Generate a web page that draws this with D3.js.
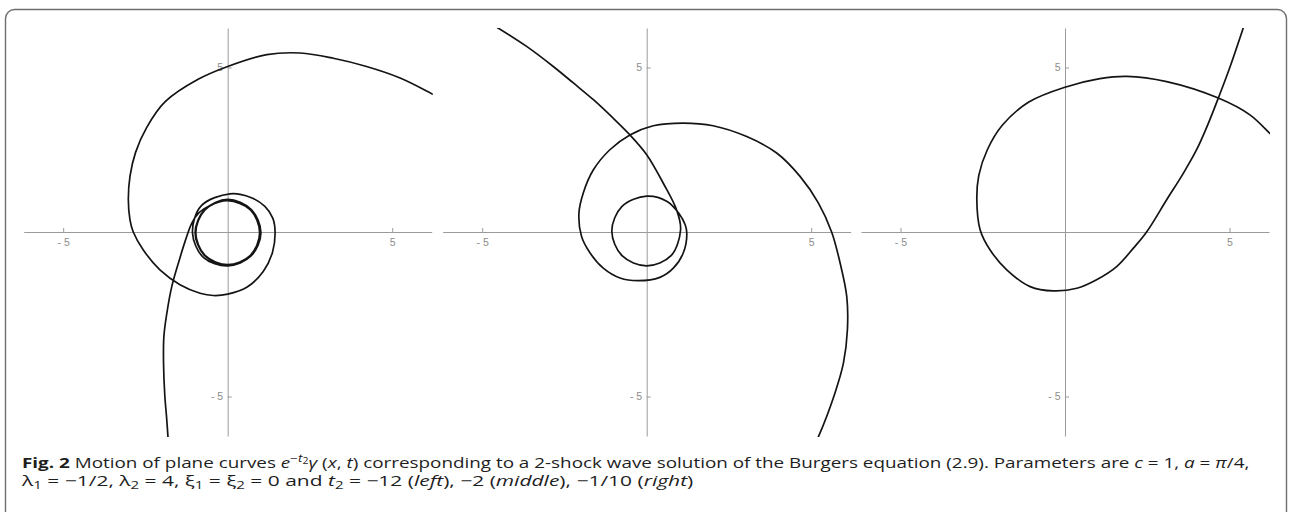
<!DOCTYPE html>
<html>
<head>
<meta charset="utf-8">
<script src="https://cdn.jsdelivr.net/npm/d3@7"></script>
<style>
  html, body { margin: 0; padding: 0; background: #ffffff; }
  svg { display: block; }
</style>
</head>
<body>
<svg id="fig" width="1291" height="512"></svg>
<script>
// ---- values -------------------------------------------------------------
// axis range and ticks shared by the three panels
const axisExtent = [-6.2, 6.2];
const tickValues = [-5, 5];
const tickLabels = ["- 5", "5"];
const panelNames = ["left", "middle", "right"];

// curve points (x, y) for t2 = -12
const leftCurve = [
  [-1.81, -6.30], [-1.86, -5.60], [-1.91, -5.00], [-1.95, -4.00], [-1.94, -3.18],
  [-1.85, -2.47], [-1.70, -1.66], [-1.47, -0.85], [-1.30, -0.30], [-1.09, 0.27],
  [-0.88, 0.58], [-0.55, 0.80], [0.00, 0.95],
  [0.69, 0.67], [0.97, -0.02], [0.69, -0.71], [0.00, -0.99], [-0.69, -0.71],
  [-0.97, -0.02], [-0.69, 0.67], [0.00, 0.97],
  [0.70, 0.68], [0.99, -0.02], [0.70, -0.72], [0.00, -1.01], [-0.70, -0.72],
  [-0.99, -0.02], [-0.70, 0.68], [0.00, 0.99],
  [0.71, 0.69], [1.01, -0.02], [0.71, -0.73], [0.00, -1.03],
  [-0.74, -0.77], [-1.07, -0.03], [-0.80, 0.80], [0.07, 1.16], [0.70, 1.05],
  [1.13, 0.78], [1.37, 0.42], [1.44, 0.00], [1.36, -0.62], [1.08, -1.20],
  [0.58, -1.68], [0.00, -1.89], [-0.44, -1.93], [-0.84, -1.86], [-1.45, -1.60],
  [-2.06, -1.15], [-2.57, -0.54], [-2.87, 0.00], [-2.97, 0.37], [-3.02, 0.98],
  [-2.97, 1.69], [-2.80, 2.42], [-2.46, 3.18], [-1.90, 3.96], [-0.90, 4.64],
  [0.00, 5.03], [1.19, 5.39], [2.20, 5.44], [3.21, 5.28], [4.22, 5.03],
  [5.24, 4.68], [6.23, 4.19], [6.35, 4.13]
];

// curve points (x, y) for t2 = -2
const middleCurve = [
  [-4.60, 6.25], [-3.65, 5.64], [-2.84, 5.03], [-2.23, 4.53], [-1.62, 4.02],
  [-1.02, 3.46], [-0.51, 2.95], [0.00, 2.35], [0.50, 1.49], [0.91, 0.67],
  [1.03, 0.07], [0.74, -0.72], [0.00, -1.03], [-0.75, -0.72], [-1.06, 0.03],
  [-0.75, 0.78], [0.00, 1.09], [0.62, 0.93], [0.97, 0.58], [1.17, 0.22],
  [1.22, -0.05], [1.11, -0.64], [0.81, -1.10], [0.40, -1.38], [-0.26, -1.48],
  [-0.81, -1.40], [-1.32, -1.10], [-1.72, -0.64], [-1.98, -0.14], [-2.06, 0.57],
  [-1.93, 1.18], [-1.62, 1.89], [-1.12, 2.50], [-0.51, 2.95], [0.20, 3.23],
  [1.11, 3.31], [2.02, 3.23], [3.04, 2.90], [3.95, 2.40], [4.66, 1.69],
  [5.22, 0.88], [5.62, 0.00], [5.88, -0.95], [6.08, -1.96], [6.10, -2.97],
  [5.98, -3.98], [5.72, -4.90], [5.22, -6.22], [5.18, -6.30]
];

// curve points (x, y) for t2 = -1/10
const rightCurve = [
  [5.45, 6.30], [5.02, 5.03], [4.66, 4.07], [4.36, 3.31], [4.00, 2.50],
  [3.60, 1.79], [3.09, 0.98], [2.48, 0.00], [2.08, -0.49], [1.57, -1.05],
  [0.96, -1.45], [0.36, -1.71], [-0.35, -1.79], [-1.06, -1.66], [-1.77, -1.15],
  [-2.28, -0.54], [-2.58, 0.07], [-2.68, 0.98], [-2.62, 1.72], [-2.36, 2.50],
  [-1.90, 3.25], [-1.10, 3.95], [0.00, 4.40], [1.06, 4.66], [1.88, 4.73],
  [3.09, 4.57], [4.66, 4.07], [5.62, 3.56], [6.21, 3.01], [6.30, 2.92]
];

// caption runs: t = text, i = italic, b = bold, s = script position
const captionLine1 = [
  { t: "Fig. 2", b: true },
  { t: " Motion of plane curves " },
  { t: "e", i: true },
  { t: "\u2212", s: "sup" },
  { t: "t", i: true, s: "sup" },
  { t: "2", s: "supsub" },
  { t: "\u03B3", i: true },
  { t: " (" },
  { t: "x", i: true },
  { t: ", " },
  { t: "t", i: true },
  { t: ") corresponding to a 2-shock wave solution of the Burgers equation (2.9). Parameters are " },
  { t: "c", i: true },
  { t: " = 1, " },
  { t: "a", i: true },
  { t: " = " },
  { t: "\u03C0", i: true },
  { t: "/4," }
];
const captionLine2 = [
  { t: "\u03BB" }, { t: "1", s: "sub" },
  { t: " = \u22121/2, \u03BB" }, { t: "2", s: "sub" },
  { t: " = 4, \u03BE" }, { t: "1", s: "sub" },
  { t: " = \u03BE" }, { t: "2", s: "sub" },
  { t: " = 0 and " }, { t: "t", i: true }, { t: "2", s: "sub" },
  { t: " = \u221212 (" }, { t: "left", i: true },
  { t: "), \u22122 (" }, { t: "middle", i: true },
  { t: "), \u22121/10 (" }, { t: "right", i: true },
  { t: ")" }
];

// ---- drawing ------------------------------------------------------------
const svg = d3.select("#fig");

// rounded figure frame (its lower edge runs past the page)
svg.append("rect")
  .attr("x", 5.5).attr("y", 9.5)
  .attr("width", 1281).attr("height", 580)
  .attr("rx", 9).attr("ry", 9)
  .attr("fill", "#ffffff")
  .attr("stroke", "#6e6e6e")
  .attr("stroke-width", 1.4);

const panelLeft = [23.7, 442.7, 861];
const panelTop = 28;
const panelSize = 408;
const curves = [leftCurve, middleCurve, rightCurve];
const defs = svg.append("defs");

curves.forEach((pts, i) => {
  const x = d3.scaleLinear().domain(axisExtent).range([panelLeft[i], panelLeft[i] + panelSize]);
  const y = d3.scaleLinear().domain(axisExtent).range([panelTop + panelSize, panelTop]);
  const g = svg.append("g").attr("class", "panel-" + panelNames[i]);

  const clipId = "clip-" + panelNames[i];
  defs.append("clipPath").attr("id", clipId)
    .append("rect")
    .attr("x", x(axisExtent[0]) - 1).attr("y", y(axisExtent[1]))
    .attr("width", panelSize + 2).attr("height", panelSize + 1);

  const fmt = d => tickLabels[tickValues.indexOf(d)];

  const xAxis = d3.axisBottom(x).tickValues(tickValues).tickFormat(fmt)
    .tickSizeInner(-4).tickSizeOuter(0).tickPadding(7);
  g.append("g").attr("transform", `translate(0,${y(0)})`).call(xAxis);

  const yAxis = d3.axisLeft(y).tickValues(tickValues).tickFormat(fmt)
    .tickSizeInner(-4).tickSizeOuter(0).tickPadding(4.5);
  g.append("g").attr("transform", `translate(${x(0)},0)`).call(yAxis);

  g.selectAll(".domain, .tick line").attr("stroke", "#9b9b9b").attr("stroke-width", 1);
  g.selectAll(".tick text")
    .attr("fill", "#8c8c8c")
    .attr("font-family", "'Liberation Sans', Arial, sans-serif")
    .attr("font-size", 10.5);

  const line = d3.line()
    .x(d => x(d[0]))
    .y(d => y(d[1]))
    .curve(d3.curveCatmullRom.alpha(0.5));

  g.append("path")
    .datum(pts)
    .attr("clip-path", `url(#${clipId})`)
    .attr("fill", "none")
    .attr("stroke", "#141414")
    .attr("stroke-width", 1.7)
    .attr("stroke-linejoin", "round")
    .attr("stroke-linecap", "round")
    .attr("d", line);
});

// caption lines, each fitted to its measured span
const scriptShift = { sup: -0.42, supsub: -0.26, sub: 0.24 };
const scriptSize = { sup: 0.72, supsub: 0.56, sub: 0.72 };

function drawCaptionLine(runs, x0, baseline, width) {
  const fs = 14.5;
  const text = svg.append("text")
    .attr("font-family", "'Open Sans', 'Noto Sans', sans-serif")
    .attr("font-size", fs)
    .attr("fill", "#1e1e1e")
    .style("white-space", "pre")
    .attr("transform", `translate(${x0},${baseline})`);
  let cur = 0;
  runs.forEach(r => {
    const shift = r.s ? scriptShift[r.s] : 0;
    const size = r.s ? scriptSize[r.s] : 1;
    const span = text.append("tspan")
      .attr("dy", (shift - cur) * fs)
      .attr("font-size", fs * size)
      .text(r.t);
    cur = shift;
    if (r.i) span.attr("font-style", "italic");
    if (r.b) span.attr("font-weight", "bold");
  });
  const w = text.node().getComputedTextLength();
  text.attr("transform", `translate(${x0},${baseline}) scale(${width / w},1)`);
}

drawCaptionLine(captionLine1, 22, 468, 1228);
drawCaptionLine(captionLine2, 22, 485.5, 672);
</script>
</body>
</html>
